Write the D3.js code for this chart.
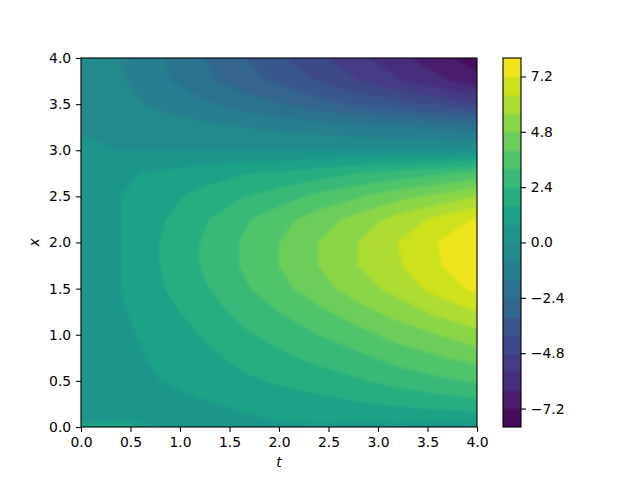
<!DOCTYPE html>
<html><head><meta charset="utf-8">
<script src="https://cdn.jsdelivr.net/npm/d3@7"></script>
<style>
html,body{margin:0;padding:0;background:#fff}
svg{display:block}
text{font-family:"DejaVu Sans",sans-serif;font-size:13.9px;fill:#000}
</style></head><body><div id="c"></div>
<script>
const tValues = [0,0.4,0.8,1.2,1.6,2,2.4,2.8,3.2,3.6,4];
const xValues = [0,0.25,0.5,0.75,1,1.25,1.5,1.75,2,2.25,2.5,2.75,3,3.25,3.5,3.75,4];
const uRows = [
[0.9,0.9,0.8,0.6,0.6,0.7,0.7,0.6,0.6,0.5,0.5],
[0.4,0.5,0.6,0.7,0.9,1.1,1.3,1.5,1.7,1.9,2.1],
[0.4,0.5,0.8,1.1,1.4,1.7,2.0,2.3,2.7,3.0,3.3],
[0.4,0.6,0.9,1.3,1.8,2.2,2.6,3.0,3.5,3.9,4.3],
[0.4,0.6,1.1,1.6,2.2,2.7,3.2,3.7,4.3,4.8,5.3],
[0.4,0.7,1.3,1.9,2.6,3.2,3.8,4.5,5.1,5.8,6.4],
[0.4,0.8,1.5,2.2,3.0,3.7,4.5,5.2,5.9,6.7,7.4],
[0.4,0.8,1.6,2.4,3.2,4.0,4.8,5.6,6.3,7.1,7.9],
[0.4,0.8,1.6,2.4,3.2,4.0,4.8,5.6,6.4,7.2,7.95],
[0.4,0.8,1.5,2.2,3.0,3.7,4.4,5.1,5.9,6.6,7.3],
[0.4,0.8,1.3,1.8,2.3,2.8,3.4,3.9,4.5,5.0,5.6],
[0.4,0.7,0.9,1.2,1.5,1.7,2.0,2.4,2.7,3.0,3.4],
[0.2,-0.02,-0.02,-0.02,-0.02,-0.02,-0.02,-0.02,-0.02,-0.02,0.0],
[-0.1,-0.2,-0.4,-0.6,-0.8,-1.0,-1.2,-1.4,-1.6,-1.8,-2.0],
[-0.2,-0.5,-1.0,-1.4,-1.9,-2.4,-2.9,-3.4,-3.8,-4.3,-4.8],
[-0.3,-0.7,-1.4,-2.1,-2.8,-3.4,-4.1,-4.8,-5.5,-6.2,-6.9],
[-0.3,-0.8,-1.5,-2.3,-3.1,-3.9,-4.6,-5.4,-6.2,-6.9,-7.7]
];
const levels = [-8,-7.2,-6.4,-5.6,-4.8,-4,-3.2,-2.4,-1.6,-0.8,0,0.8,1.6,2.4,3.2,4,4.8,5.6,6.4,7.2,8];
const axisTicks = [0,0.5,1,1.5,2,2.5,3,3.5,4];
const barTicks = [-7.2,-4.8,-2.4,0,2.4,4.8,7.2];

const W=640,H=480, L=81,R=477,T=58,B=427, CL=503,CR=521;
const svg=d3.select("#c").append("svg").attr("width",W).attr("height",H);
const xS=d3.scaleLinear().domain([0,4]).range([L,R]);
const yS=d3.scaleLinear().domain([0,4]).range([B,T]);
const cbS=d3.scaleLinear().domain([-8,8]).range([B,T]);
const color=d3.scaleSequential(d3.interpolateViridis).domain([-8,8]);

const n=tValues.length,m=xValues.length;
const flat=uRows.flat();
const gx=d3.scaleLinear().domain(tValues.map((_,i)=>i+0.5)).range(tValues);
const gy=d3.scaleLinear().domain(xValues.map((_,i)=>i+0.5)).range(xValues);
const contours=d3.contours().size([n,m]).smooth(true).thresholds(levels)(flat);
const path=d3.geoPath(d3.geoTransform({point(a,b){this.stream.point(xS(gx(a)),yS(gy(b)));}}));
const defs=svg.append("defs");
defs.append("clipPath").attr("id","plot").append("rect")
  .attr("x",L).attr("y",T).attr("width",R-L).attr("height",B-T);
defs.append("clipPath").attr("id","bar").append("rect")
  .attr("x",CL).attr("y",T).attr("width",CR-CL).attr("height",B-T);
function blur(id,s){defs.append("filter").attr("id",id).attr("filterUnits","userSpaceOnUse")
  .attr("x",0).attr("y",0).attr("width",W).attr("height",H)
  .append("feGaussianBlur").attr("stdDeviation",s);}
blur("soft",1.6); blur("softBar",1);
const bandColor=v=>color(v+0.4);
svg.append("g").attr("clip-path","url(#plot)").append("g").attr("filter","url(#soft)")
  .selectAll("path").data(contours).join("path")
  .attr("d",path).attr("fill",d=>bandColor(d.value)).attr("stroke",d=>bandColor(d.value)).attr("stroke-width",0.5);

function styleAxis(g){
  g.selectAll("line").attr("stroke","#000").attr("stroke-width",1.1);
  g.select(".domain").remove();
  g.selectAll("text").style("font-family",'"DejaVu Sans",sans-serif').style("font-size","13.9px").attr("fill","#000");
}
const fmt=d3.format(".1f");
svg.append("g").attr("transform",`translate(0,${B})`)
  .call(d3.axisBottom(xS).tickValues(axisTicks).tickFormat(fmt).tickSize(4.9).tickPadding(4.9)).call(styleAxis);
svg.append("g").attr("transform",`translate(${L},0)`)
  .call(d3.axisLeft(yS).tickValues(axisTicks).tickFormat(fmt).tickSize(4.9).tickPadding(4.9)).call(styleAxis);
svg.append("rect").attr("x",L).attr("y",T).attr("width",R-L).attr("height",B-T)
  .attr("fill","none").attr("stroke","#000").attr("stroke-width",1.1);

svg.append("text").attr("x",(L+R)/2).attr("y",467).attr("text-anchor","middle").attr("font-style","italic").text("t");
svg.append("text").attr("transform",`translate(39,${(T+B)/2}) rotate(-90)`).attr("text-anchor","middle").attr("font-style","italic").text("x");

// colorbar
const first=levels[0], last=levels[levels.length-2];
svg.append("g").attr("clip-path","url(#bar)").append("g").attr("filter","url(#softBar)")
  .selectAll("rect").data(levels.slice(0,-1)).join("rect")
  .attr("x",CL-6).attr("width",CR-CL+12)
  .attr("y",d=>cbS(d+0.8)-(d===last?6:0)).attr("height",d=>cbS(d)-cbS(d+0.8)+0.5+(d===last||d===first?6:0))
  .attr("fill",bandColor);
svg.append("g").attr("transform",`translate(${CR},0)`)
  .call(d3.axisRight(cbS).tickValues(barTicks).tickFormat(d=>fmt(d).replace("-","\u2212")).tickSize(4.9).tickPadding(4.9)).call(styleAxis);
svg.append("rect").attr("x",CL).attr("y",T).attr("width",CR-CL).attr("height",B-T)
  .attr("fill","none").attr("stroke","#000").attr("stroke-width",1.1);
</script></body></html>
